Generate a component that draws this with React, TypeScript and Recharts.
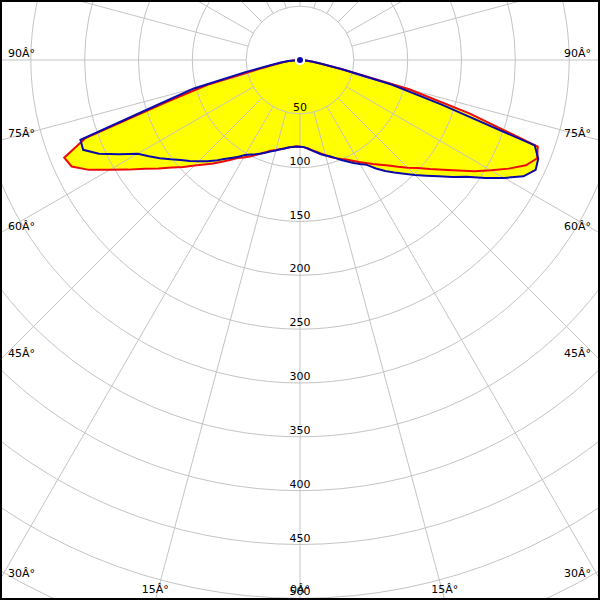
import type { CSSProperties } from "react";
import {
  RadarChart, Radar, PolarGrid, PolarAngleAxis, PolarRadiusAxis,
} from "recharts";

const W = 600;
const H = 600;
const CX = 300;
const CY = 60;
const MAX = 600;
const OUTER = 646; // px radius for MAX
const STEP = 2.5;
const FONT = "'DejaVu Sans', sans-serif";
const GRID = "#c4c4c4";

const RADIUS_TICKS = [50, 100, 150, 200, 250, 300, 350, 400, 450, 500, 550, 600];
const SPOKES = [0, 15, 30, 45, 60, 75, 90, 105, 120, 135, 150, 165, 180, 195, 210, 225, 240, 255, 270, 285, 300, 315, 330, 345];

// nadir angle 0..90 in 2.5 deg steps (right half of the diagram)
const RED_RIGHT = [
  80.5, 81, 82.5, 84.5, 86.5, 88.8, 91.5, 94.5, 97, 99.5,
  102, 105.5, 109.5, 113.5, 118, 122.5, 128, 134.5, 141.5, 148.5,
  157.5, 167.5, 179, 192.5, 205, 218.5, 231.5, 238.5, 235, 165,
  105, 40, 19, 12, 7, 3, 1,
];
const BLUE_RIGHT = [
  80.5, 81, 82.5, 84.7, 87, 89.7, 91.8, 94, 97, 100.5,
  104, 107.8, 111.6, 115.5, 123, 130, 136.3, 143.2, 151, 159,
  168, 178.6, 189, 204, 219, 234, 241.5, 239.5, 232, 138,
  88, 40, 20, 12, 7, 3, 1,
];
// nadir angle 0..90 in 2.5 deg steps (left half of the diagram)
const RED_LEFT = [
  80.5, 80.5, 81, 82, 83.5, 85, 86.5, 88, 91, 94,
  97.5, 101, 104.5, 108, 113.5, 119, 125.5, 131.5, 138.5, 147,
  155.5, 165.5, 176, 189.5, 204, 221, 234, 237, 212, 130,
  89, 40, 24, 15, 9, 3, 1,
];
const BLUE_LEFT = [
  80.5, 80.5, 81, 82, 83.5, 85, 87, 89, 91.5, 94,
  96.5, 99, 102, 106.5, 111, 116, 122, 127.5, 133, 139,
  144.5, 151.5, 159, 166.5, 174, 189.5, 206, 218, 217, 139,
  102, 52, 28, 18, 11, 3, 1,
];
// upper half, 92.5..267.5 deg
const UP = [
  0, 0, 0, 0, 0, 0, 0, 0, 0, 0,
  0, 0, 0, 0, 0, 0, 0, 0, 0, 0,
  0, 0, 0, 0, 0, 0, 0, 0, 0, 0,
  0, 0, 0, 0, 0, 0, 0, 0, 0, 0,
  0, 0, 0, 0, 0, 0, 0, 0, 0, 0,
  0, 0, 0, 0, 0, 0, 0, 0, 0, 0,
  0, 0, 0, 0, 0, 0, 0, 0, 0, 0,
  0,
];

const N = 360 / STEP;
const data = Array.from({ length: N }, (_, i) => {
  const g = i * STEP;
  if (g <= 90) return { angle: g, red: RED_RIGHT[i], blue: BLUE_RIGHT[i] };
  if (g >= 270) {
    const k = Math.round((360 - g) / STEP);
    return { angle: g, red: RED_LEFT[k], blue: BLUE_LEFT[k] };
  }
  return { angle: g, red: UP[i - 37], blue: UP[i - 37] };
});

const px = (v: number) => (v / MAX) * OUTER;

function AngleTick(props: any) {
  const g = Number(props.payload?.value);
  if (g % 15 !== 0 || (g > 90 && g < 270)) return <g />;
  const theta = g <= 90 ? g : 360 - g;
  const side = g <= 90 ? 1 : -1;
  const rad = (theta * Math.PI) / 180;
  const s = Math.sin(rad);
  const c = Math.cos(rad);
  const tSide = s > 1e-6 ? (side > 0 ? W - CX : CX) / s : Infinity;
  const tBottom = c > 1e-6 ? (H - CY) / c : Infinity;
  let x: number;
  let y: number;
  let anchor: "start" | "end" | "middle";
  if (tSide < tBottom) {
    x = side > 0 ? W - 9 : 8;
    y = CY + tSide * c - 3;
    anchor = side > 0 ? "end" : "start";
  } else {
    x = CX + side * tBottom * s;
    y = H - 7;
    anchor = "middle";
  }
  return (
    <text x={x} y={y} textAnchor={anchor} fontSize={11} fontFamily={FONT} fill="#000">
      {`${theta}Â°`}
    </text>
  );
}

function RadiusTick(props: any) {
  const v = props.payload?.value;
  if (!v) return <g />;
  return (
    <text x={props.x} y={props.y - 3} textAnchor="middle" fontSize={11} fontFamily={FONT} fill="#000">
      {v}
    </text>
  );
}

// the radar series sit one category past the band start, so start one step early
const chartProps = {
  width: W,
  height: H,
  cx: CX,
  cy: CY,
  outerRadius: OUTER,
  startAngle: -90 - STEP,
  endAngle: 270 - STEP,
  margin: { top: 0, right: 0, bottom: 0, left: 0 },
  data,
};

const layer: CSSProperties = { position: "absolute", left: 0, top: 0 };

export default function App() {
  return (
    <div style={{ position: "relative", width: W, height: H, overflow: "hidden", background: "#fff" }}>
      <style>{"body{margin:0}"}</style>
      <div style={layer}>
        <RadarChart {...chartProps}>
          <PolarAngleAxis dataKey="angle" tick={false} axisLine={false} tickLine={false} />
          <PolarRadiusAxis domain={[0, MAX]} type="number" tick={false} axisLine={false} tickLine={false} />
          <Radar dataKey="red" stroke="none" fill="#ffff00" fillOpacity={1} dot={false} isAnimationActive={false} />
          <Radar dataKey="blue" stroke="none" fill="#ffff00" fillOpacity={1} dot={false} isAnimationActive={false} />
        </RadarChart>
      </div>
      <div style={layer}>
        <RadarChart {...chartProps} innerRadius={px(50)}>
          <PolarGrid
            gridType="circle"
            polarAngles={SPOKES.map((g) => -90 + g)}
            polarRadius={RADIUS_TICKS.map(px)}
            stroke={GRID}
          />
          <PolarAngleAxis dataKey="angle" tick={false} axisLine={false} tickLine={false} />
          <PolarRadiusAxis domain={[0, MAX]} type="number" tick={false} axisLine={false} tickLine={false} />
        </RadarChart>
      </div>
      <div style={layer}>
        <RadarChart {...chartProps}>
          <PolarAngleAxis dataKey="angle" tick={AngleTick} axisLine={false} tickLine={false} />
          <PolarRadiusAxis
            domain={[0, MAX]}
            type="number"
            angle={-90}
            ticks={RADIUS_TICKS as any}
            tickCount={13}
            tick={RadiusTick}
            axisLine={false}
            tickLine={false}
          />
          <Radar dataKey="red" stroke="#ee0a0a" strokeWidth={2} fill="none" strokeLinejoin="miter" dot={false} isAnimationActive={false} />
          <Radar dataKey="blue" stroke="#0a0aaa" strokeWidth={2} fill="none" strokeLinejoin="miter" dot={false} isAnimationActive={false} />
        </RadarChart>
      </div>
      <div style={{ ...layer, width: W, height: H, boxSizing: "border-box", border: "2px solid #000", pointerEvents: "none" }} />
    </div>
  );
}
